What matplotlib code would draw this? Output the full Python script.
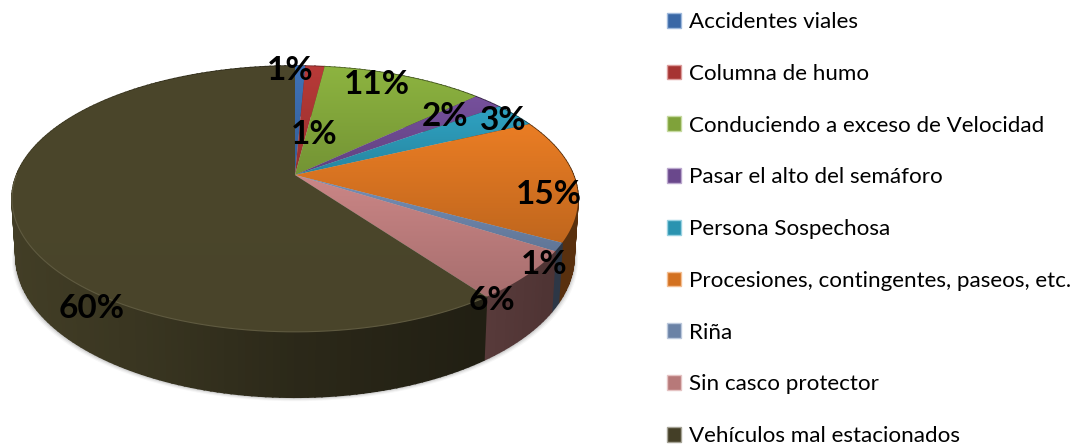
import numpy as np
import matplotlib
matplotlib.use("Agg")
import matplotlib.pyplot as plt
from matplotlib.colors import to_rgb
from matplotlib.patches import Patch, Polygon

categorias = ["Accidentes viales", "Columna de humo", "Conduciendo a exceso de Velocidad",
              "Pasar el alto del semáforo", "Persona Sospechosa",
              "Procesiones, contingentes, paseos, etc.", "Riña", "Sin casco protector",
              "Vehículos mal estacionados"]
valores = [0.7, 1.3, 11, 2, 3, 15, 1, 6, 60]
colores = ["#3f72b8", "#b83a38", "#8db440", "#76509c", "#2fa3c3",
           "#ea7d24", "#7690b8", "#cb8686", "#4b462b"]

# where each percent label sits, in picture pixels
label_x = [290, 314, 377, 445, 503, 549, 544, 492, 92]
label_y = [70, 134, 84, 117, 120, 194, 264, 300, 308]

plt.rcParams['font.family'] = ['Lato', 'DejaVu Sans']

fig = plt.figure(figsize=(10.8, 4.46), dpi=100)
ax = fig.add_axes([0, 0, 1, 1])


# tilted disc: a circle seen in perspective, apex is the pie centre
def disc(t, cy, a=278.4, b=128.6, p=0.18):
    u = np.sin(t)
    v = np.cos(t)
    w = 1 + p * v
    return 295 + a * u / w, cy - b * v / w


def top(t):
    return disc(t, 175)


def bottom(t):
    return disc(t, 231, a=274.5, b=136.3)


cum = np.concatenate([[0], np.cumsum(valores)]) / np.sum(valores) * 2 * np.pi

# soft shadow round the bottom edge
tt = np.linspace(0, 2 * np.pi, 300)
bx, by = bottom(tt)
for grow, alpha in zip([4, 3, 2, 1], [0.05, 0.08, 0.12, 0.18]):
    ax.fill(295 + (bx - 295) * (1 + grow / 280), by + grow, color="#555555", alpha=alpha, lw=0)

# side walls, darker towards the right
for i, c in enumerate(colores):
    base = np.array(to_rgb(c))
    steps = np.linspace(cum[i], cum[i + 1], max(3, int(valores[i] * 3)))
    for t0, t1 in zip(steps[:-1], steps[1:]):
        x0, y0 = top(t0)
        x1, y1 = top(t1)
        x2, y2 = bottom(t1)
        x3, y3 = bottom(t0)
        f = np.interp((x0 + x1) / 2, [12, 150, 294, 560], [0.88, 0.75, 0.58, 0.38])
        ax.fill([x0, x1, x2, x3], [y0, y1, y2, y3], color=base * f, lw=1.2, ec=base * f)

# top face, each slice with a small vertical gradient
for i, c in enumerate(colores):
    base = np.array(to_rgb(c))
    t = np.linspace(cum[i], cum[i + 1], max(4, int(valores[i] * 4)))
    x, y = top(t)
    px = np.concatenate([[295], x])
    py = np.concatenate([[175], y])
    fade = 0.98 if i == 8 else 0.82
    grad = np.linspace(1, fade, 64)[:, None, None] * base[None, None, :]
    im = ax.imshow(grad, extent=[px.min(), px.max(), py.max(), py.min()],
                   aspect="auto", interpolation="bilinear", zorder=3)
    poly = Polygon(np.column_stack([px, py]), closed=True, transform=ax.transData,
                   fc="none", ec="none")
    ax.add_patch(poly)
    im.set_clip_path(poly)

# lighter rim on the front of the dark slice
rt = np.linspace(cum[8], 1.5 * np.pi, 150)
rx, ry = top(rt)
ax.plot(rx, ry, color="#5f5a40", lw=0.8, zorder=4)

for i, v in enumerate(valores):
    ax.text(label_x[i], label_y[i], f"{v:.0f}%", ha="center", va="center",
            fontsize=24, fontweight="bold", color="black", zorder=5)

handles = [Patch(facecolor=np.array(to_rgb(c)) * 0.9,
                 edgecolor=(np.array(to_rgb(c)) + 1) / 2, linewidth=1) for c in colores]
ax.legend(handles, categorias, loc="upper left", bbox_to_anchor=(667 / 1080, 1 - 12 / 446),
          frameon=False, fontsize=16.1, labelspacing=1.42, handlelength=0.64,
          handleheight=0.64, handletextpad=0.36, borderpad=0, borderaxespad=0)

ax.set_xlim(0, 1080)
ax.set_ylim(446, 0)
ax.axis("off")

fig.savefig("out.png", dpi=100)
